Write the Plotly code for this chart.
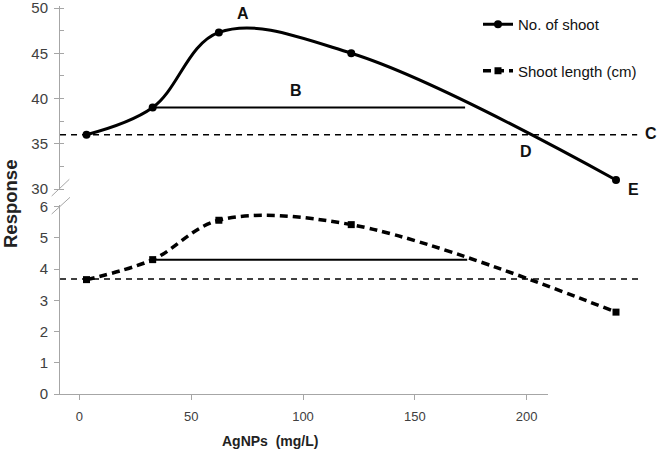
import plotly.graph_objects as go

# ---------------- data ----------------
conc = [0, 25, 50, 100, 200]                 # AgNPs (mg/L)
no_of_shoot = [36.0, 39.0, 47.3, 45.0, 31.0]
shoot_length = [3.66, 4.3, 5.56, 5.42, 2.62]

x_ticks = [0, 50, 100, 150, 200]
top_ticks = [30, 35, 40, 45, 50]
bottom_ticks = [0, 1, 2, 3, 4, 5, 6]

# reference lines
top_B_level, top_B_x = 39.0, [25, 143]
top_C_level, top_C_x = 36.0, [-10, 208]
bot_B_level, bot_B_x = 4.3, [25, 143.8]
bot_C_level, bot_C_x = 3.68, [-10, 208.4]

labels = ["A", "B", "C", "D", "E"]
label_x = [59, 79, 213.3, 166, 206.5]
label_y = [49.35, 40.9, 36.1, 34.1, 29.95]

# ---------------- figure ----------------
W, H = 660, 455
L, R, T, B = 60, 5, 5, 61
AX = "#a6a6a6"
TXT = "#404040"
FONT = "Liberation Sans, Arial, sans-serif"

fig = go.Figure()

# main series on data axis x2
fig.add_trace(go.Scatter(
    x=conc, y=no_of_shoot, xaxis="x2", yaxis="y2", name="No. of shoot",
    mode="lines+markers", line=dict(color="black", width=3, shape="spline", smoothing=1.05),
    marker=dict(symbol="circle", size=8, color="black"), legendgroup="a"))
fig.add_trace(go.Scatter(
    x=conc, y=shoot_length, xaxis="x2", yaxis="y", name="Shoot length (cm)",
    mode="lines+markers", line=dict(color="black", width=3.5, shape="spline", smoothing=1.0, dash="8px,5px"),
    marker=dict(symbol="square", size=7, color="black"), legendgroup="b"))

# reference lines
fig.add_trace(go.Scatter(x=top_B_x, y=[top_B_level] * 2, xaxis="x2", yaxis="y2", mode="lines",
                         line=dict(color="black", width=2), showlegend=False, hoverinfo="skip"))
fig.add_trace(go.Scatter(x=top_C_x, y=[top_C_level] * 2, xaxis="x2", yaxis="y2", mode="lines",
                         line=dict(color="black", width=1.6, dash="6px,5px"), showlegend=False, hoverinfo="skip"))
fig.add_trace(go.Scatter(x=bot_B_x, y=[bot_B_level] * 2, xaxis="x2", yaxis="y", mode="lines",
                         line=dict(color="black", width=2), showlegend=False, hoverinfo="skip"))
fig.add_trace(go.Scatter(x=bot_C_x, y=[bot_C_level] * 2, xaxis="x2", yaxis="y", mode="lines",
                         line=dict(color="black", width=1.6, dash="6px,5px"), showlegend=False, hoverinfo="skip"))
# empty trace so the visible x axis subplot exists
fig.add_trace(go.Scatter(x=[], y=[], xaxis="x", yaxis="y", showlegend=False, hoverinfo="skip"))

plot_w = W - L - R
plot_h = H - T - B


def px_x(p):
    return (p - L) / plot_w


def px_y(p):
    return (H - B - p) / plot_h


# data x axis scale: 0 -> 86.5px, 200 -> 616px
dx0, dx200 = 86.5, 616.0
dscale = (dx200 - dx0) / 200
x2_range = [(L - dx0) / dscale, (W - R - dx0) / dscale]

# visible x axis: 0 -> 79.3px, 200 -> 526.7px, line ends at 548px
vx0, vx200 = 79.3, 526.7
vscale = (vx200 - vx0) / 200
vx_end = 548
x_range = [(L - vx0) / vscale, (vx_end - vx0) / vscale]

# top y: 50 -> 8px, 30 -> 189px ; domain 6..190 px
tscale = (189 - 8) / 20
top_dom = [px_y(190), px_y(6)]
y2_range = [30 - (190 - 189) / tscale, 50 + (8 - 6) / tscale]

# bottom y: 0 -> 394px, 6 -> 206.5px ; domain 205..394
bscale = (394 - 206.5) / 6
bot_dom = [0, px_y(205)]
y_range = [0, 6 + (206.5 - 205) / bscale]

tickfont = dict(family=FONT, size=15, color=TXT)

fig.update_layout(
    width=W, height=H, margin=dict(l=L, r=R, t=T, b=B, autoexpand=False),
    paper_bgcolor="white", plot_bgcolor="white",
    font=dict(family=FONT, color=TXT),
    xaxis=dict(domain=[0, px_x(vx_end)], range=x_range, tickvals=x_ticks, showline=True,
               linecolor=AX, linewidth=1, ticks="outside", ticklen=5, tickcolor=AX,
               showgrid=False, zeroline=False, tickfont=dict(family=FONT, size=13, color=TXT),
               ticklabelstandoff=5, ticklabeloverflow="allow", anchor="y"),
    xaxis2=dict(domain=[0, 1], range=x2_range, visible=False, anchor="y"),
    yaxis=dict(domain=bot_dom, range=y_range, tickvals=bottom_ticks, showline=True, linecolor=AX,
               ticks="outside", ticklen=5, tickcolor=AX, showgrid=False, zeroline=False,
               tickfont=tickfont, anchor="x", ticklabelstandoff=3, ticklabeloverflow="allow",
               minor=dict(ticks="inside", ticklen=4, dtick=0.5, tickcolor=AX, showgrid=False)),
    yaxis2=dict(domain=top_dom, range=y2_range, tickvals=top_ticks, showline=True, linecolor=AX,
                ticks="outside", ticklen=5, tickcolor=AX, showgrid=False, zeroline=False,
                tickfont=tickfont, anchor="x", ticklabelstandoff=3, ticklabeloverflow="allow",
                minor=dict(ticks="inside", ticklen=4, dtick=2.5, tickcolor=AX, showgrid=False)),
    legend=dict(x=px_x(478), y=px_y(8), xanchor="left", yanchor="top",
                font=dict(family=FONT, size=15, color="#111"), tracegroupgap=24,
                traceorder="grouped", bgcolor="rgba(0,0,0,0)"),
    showlegend=True,
)

# axis titles
fig.add_annotation(text="<b>AgNPs&nbsp;&nbsp;(mg/L)</b>", xref="paper", yref="paper",
                   x=px_x(270), y=px_y(441), xanchor="center", yanchor="middle", showarrow=False,
                   font=dict(family=FONT, size=14, color="#222"))
fig.add_annotation(text="<b>Response</b>", xref="paper", yref="paper", x=px_x(10), y=px_y(204),
                   xanchor="center", yanchor="middle",
                   textangle=-90, showarrow=False, font=dict(family=FONT, size=18.5, color="#222"))

# letter labels
for t, lx, ly in zip(labels, label_x, label_y):
    fig.add_annotation(text=f"<b>{t}</b>", x=lx, y=ly, xref="x2", yref="y2", showarrow=False,
                       font=dict(family=FONT, size=16, color="#111"))

# axis break marks
for (a, b, c, d) in [(51.7, 196, 69.3, 179.3), (51.7, 214, 70, 197.3)]:
    fig.add_shape(type="line", xref="paper", yref="paper", x0=px_x(a), y0=px_y(b), x1=px_x(c), y1=px_y(d),
                  line=dict(color=AX, width=1))

fig.write_html("out.html", config={"displayModeBar": False},
               post_script="document.body.style.margin='0';")
